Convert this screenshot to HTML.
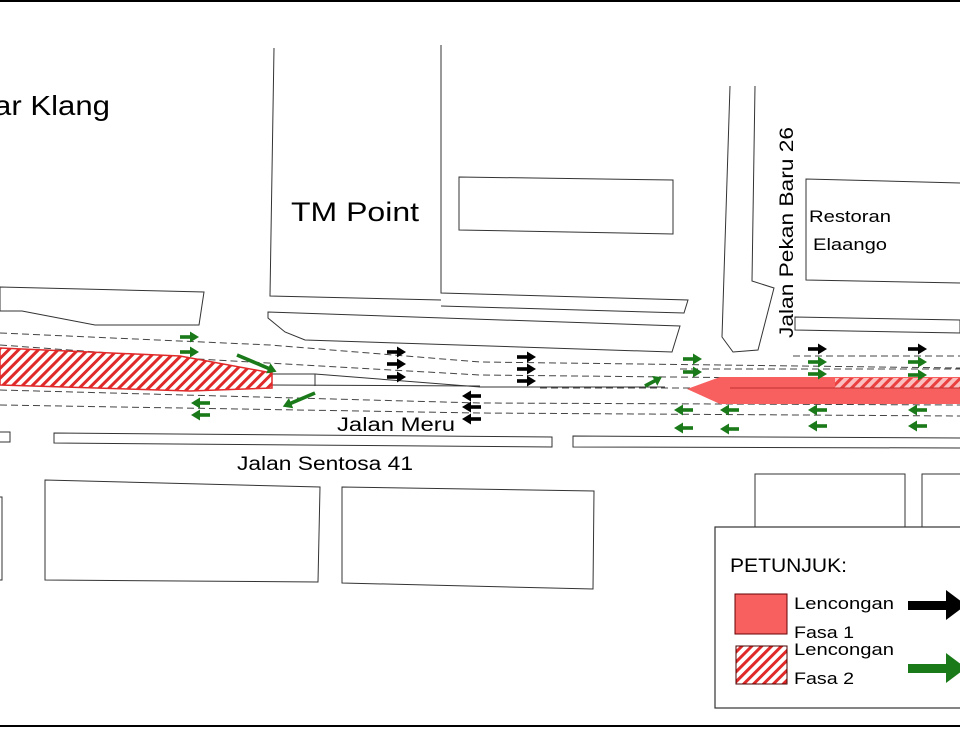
<!DOCTYPE html>
<html><head><meta charset="utf-8"><style>
html,body{margin:0;padding:0;background:#fff}
svg{display:block}
text{font-family:"Liberation Sans",sans-serif;fill:#000}
</style></head><body>
<svg width="960" height="733" viewBox="0 0 960 733" xmlns="http://www.w3.org/2000/svg">
<defs>
<pattern id="h" patternUnits="userSpaceOnUse" width="7" height="7" patternTransform="rotate(45)">
<rect width="7" height="7" fill="#fff"/><rect width="3" height="7" fill="#e02a2a"/>
</pattern>
<g id="ra"><rect x="0" y="-1.8" width="11" height="3.6"/><polygon points="10,-5.5 19,0 10,5.5"/></g>
<g id="la"><rect x="8" y="-1.8" width="11" height="3.6"/><polygon points="9,-5.5 0,0 9,5.5"/></g>
</defs>
<line x1="0" y1="1" x2="960" y2="1" stroke="#000" stroke-width="2"/>
<line x1="0" y1="726" x2="960" y2="726" stroke="#000" stroke-width="2"/>
<g fill="none" stroke="#333" stroke-width="1">
<polyline points="274,48 270,296 441,300"/>
<polyline points="441,45 441,293 688,300 684,313 441,306"/>
<polygon points="268,312 680,326 672,352 305,340 285,332 268,318"/>
<polygon points="0,287 204,292 199,325 95,325 22,311 0,311"/>
<polygon points="459,177 673,180 673,234 459,230"/>
<polyline points="730,86 722,337 733,352 758,350 774,288 752,281 755,86"/>
<polyline points="960,183 806,179 806,280 960,283"/>
<polygon points="795,317 960,320 960,333 795,330"/>
<polyline points="272,374 315,374 480,387 665,387"/>
<polyline points="272,385 480,386"/>
<line x1="315" y1="374" x2="315" y2="386"/>
<polygon points="-2,432 10,432 10,442 -2,442"/>
<polygon points="54,433 552,437 552,447 54,443"/>
<polygon points="573,436 962,438 962,448 573,447"/>
<polygon points="45,480 320,487 318,582 45,580"/>
<polygon points="342,487 594,491 593,589 342,583"/>
<polyline points="0,497 2,497 2,580 0,580"/>
<polyline points="755,527 755,474 905,474 905,527"/>
<polyline points="922,527 922,474 962,474"/>
</g>
<g fill="none" stroke="#444" stroke-width="1" stroke-dasharray="7,4">
<polyline points="0,333 270,345 480,362 960,368"/>
<polyline points="0,345 180,358 480,375 960,380"/>
<polyline points="0,390 480,403 960,405"/>
<polyline points="0,405 480,413 960,416"/>
<polyline points="793,356 960,356"/>
<polyline points="680,369 960,369"/>
<polyline points="540,388 690,388"/>
</g>
<polygon points="0,348 180,356 272,373 272,388 190,391 0,385" fill="url(#h)" stroke="#e02a2a" stroke-width="1.5"/>
<polygon points="687,389 720,377 962,377 962,404 720,404" fill="#f86060"/>
<rect x="835" y="378" width="125" height="10" fill="url(#h)" opacity="0.6"/>
<line x1="730" y1="388" x2="960" y2="388" stroke="#c03030" stroke-width="1"/>
<g fill="#000">
<use href="#ra" x="387" y="352"/><use href="#ra" x="387" y="364"/><use href="#ra" x="387" y="377"/>
<use href="#ra" x="517" y="357"/><use href="#ra" x="517" y="369"/><use href="#ra" x="517" y="381"/>
<use href="#ra" x="808" y="349"/><use href="#ra" x="908" y="349"/>
<use href="#la" x="462" y="396"/><use href="#la" x="462" y="407"/><use href="#la" x="462" y="419"/>
</g>
<g fill="#1a7a1a">
<use href="#ra" x="180" y="337"/><use href="#ra" x="180" y="352"/>
<use href="#ra" x="683" y="359"/><use href="#ra" x="683" y="372"/>
<use href="#ra" x="808" y="362"/><use href="#ra" x="808" y="374"/>
<use href="#ra" x="908" y="362"/><use href="#ra" x="908" y="375"/>
<use href="#la" x="191" y="403"/><use href="#la" x="191" y="415"/>
<use href="#la" x="674" y="410"/><use href="#la" x="674" y="428"/>
<use href="#la" x="720" y="410"/><use href="#la" x="720" y="429"/>
<use href="#la" x="808" y="410"/><use href="#la" x="808" y="426"/>
<use href="#la" x="908" y="410"/><use href="#la" x="908" y="426"/>
<g transform="translate(237,355) rotate(23)"><rect x="0" y="-1.8" width="36" height="3.6"/><polygon points="34,-5.5 43,0 34,5.5"/></g>
<g transform="translate(315,393) rotate(157)"><rect x="0" y="-1.8" width="28" height="3.6"/><polygon points="26,-5.5 35,0 26,5.5"/></g>
<g transform="translate(645,386) rotate(-28)"><rect x="0" y="-1.8" width="12" height="3.6"/><polygon points="11,-5.5 19,0 11,5.5"/></g>
</g>
<text x="-6" y="115" font-size="28" textLength="116" lengthAdjust="spacingAndGlyphs">ar Klang</text>
<text x="291" y="221" font-size="27" textLength="128" lengthAdjust="spacingAndGlyphs">TM Point</text>
<text transform="translate(793,338) rotate(-90)" font-size="19" textLength="211" lengthAdjust="spacingAndGlyphs">Jalan Pekan Baru 26</text>
<text x="809" y="222" font-size="17" textLength="82" lengthAdjust="spacingAndGlyphs">Restoran</text>
<text x="813" y="250" font-size="17" textLength="74" lengthAdjust="spacingAndGlyphs">Elaango</text>
<text x="337" y="431" font-size="19" textLength="118" lengthAdjust="spacingAndGlyphs">Jalan Meru</text>
<text x="237" y="470" font-size="19" textLength="176" lengthAdjust="spacingAndGlyphs">Jalan Sentosa 41</text>
<rect x="715" y="527" width="250" height="181" fill="#fff" stroke="#333" stroke-width="1.2"/>
<text x="730" y="572" font-size="19" textLength="117" lengthAdjust="spacingAndGlyphs">PETUNJUK:</text>
<rect x="735" y="594" width="52" height="40" fill="#f86060" stroke="#600" stroke-width="1"/>
<rect x="736" y="646" width="51" height="38" fill="url(#h)" stroke="#400" stroke-width="1"/>
<text x="794" y="609" font-size="17" textLength="100" lengthAdjust="spacingAndGlyphs">Lencongan</text>
<text x="794" y="638" font-size="17" textLength="60" lengthAdjust="spacingAndGlyphs">Fasa 1</text>
<text x="794" y="655" font-size="17" textLength="100" lengthAdjust="spacingAndGlyphs">Lencongan</text>
<text x="794" y="684" font-size="17" textLength="60" lengthAdjust="spacingAndGlyphs">Fasa 2</text>
<rect x="908" y="601" width="45" height="9" fill="#000"/><polygon points="946,590 966,605 946,620" fill="#000"/>
<rect x="908" y="664" width="45" height="9" fill="#1a7a1a"/><polygon points="946,653 966,668 946,683" fill="#1a7a1a"/>
</svg>
</body></html>
